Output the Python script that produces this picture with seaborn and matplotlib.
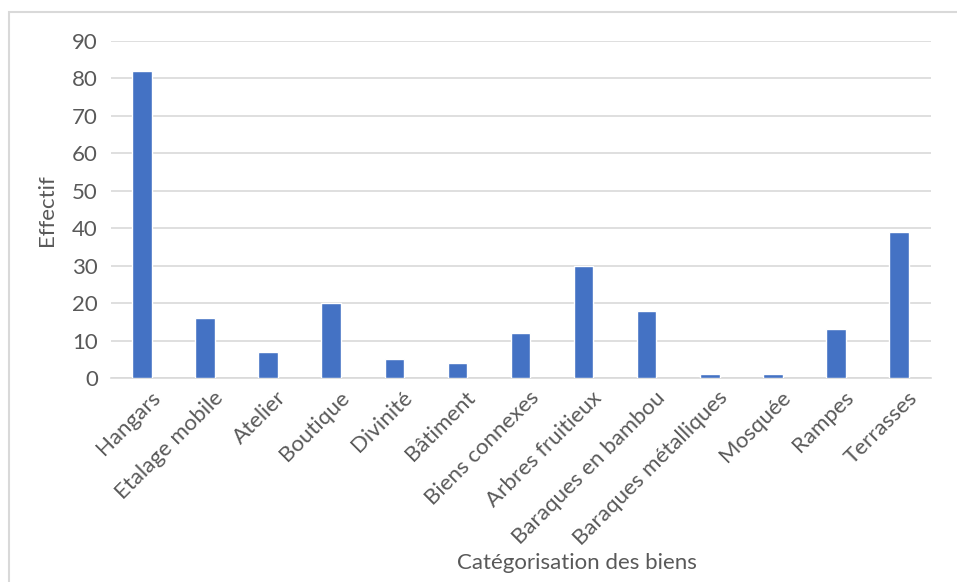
import matplotlib
matplotlib.use("Agg")
import matplotlib.pyplot as plt
import matplotlib.transforms as mtransforms
import seaborn as sns
import pandas as pd
from matplotlib.patches import Rectangle

categories = ["Hangars", "Etalage mobile", "Atelier", "Boutique", "Divinité",
              "Bâtiment", "Biens connexes", "Arbres fruitieux", "Baraques en bambou",
              "Baraques métalliques", "Mosquée", "Rampes", "Terrasses"]
effectif = [82, 16, 7, 20, 5, 4, 12, 30, 18, 1, 1, 13, 39]
y_ticks = [0, 10, 20, 30, 40, 50, 60, 70, 80, 90]

df = pd.DataFrame({"categorie": categories, "effectif": effectif})

sns.set_theme(style="white")
plt.rcParams["font.family"] = ["Lato", "DejaVu Sans"]

W, H = 957, 582
fig = plt.figure(figsize=(W / 100, H / 100), dpi=100)
ax = fig.add_axes([110.5 / W, 1 - 378 / H, 820 / W, 337 / H])

# chart frame
fig.patches.append(Rectangle((9 / W, -0.1), 1.2, 1 + 0.1 - 12 / H, transform=fig.transFigure,
                             fill=False, edgecolor="#d9d9d9", linewidth=1.5, zorder=0))

sns.barplot(data=df, x="categorie", y="effectif", color="#4472c4", width=0.31,
            saturation=1, ax=ax, zorder=3)

ax.set_ylim(0, 90)
ax.set_yticks(y_ticks)
ax.set_xlim(-0.5, len(categories) - 0.5)
ax.yaxis.grid(True, color="#d9d9d9", linewidth=1.2, zorder=0)
ax.xaxis.grid(False)
for side in ["top", "right", "left"]:
    ax.spines[side].set_visible(False)
ax.spines["bottom"].set_color("#d9d9d9")
ax.spines["bottom"].set_linewidth(1.2)
ax.tick_params(axis="both", length=0, labelsize=16, colors="#595959")
ax.tick_params(axis="y", pad=9)
ax.tick_params(axis="x", pad=7)
ax.set_xticks(range(len(categories)))
ax.set_xticklabels(categories, rotation=45, ha="right", va="top", rotation_mode="anchor")
# nudge the rotated labels so their ends sit just right of each bar
shift = mtransforms.ScaledTranslation(8 / 100, 0, fig.dpi_scale_trans)
for lbl in ax.get_xticklabels():
    lbl.set_transform(lbl.get_transform() + shift)

ax.set_xlabel("")
ax.set_ylabel("")
fig.text(47 / W, 1 - 210 / H, "Effectif", rotation=90, ha="center", va="center",
         fontsize=16, color="#595959")
fig.text(577 / W, 1 - 563 / H, "Catégorisation des biens", ha="center", va="center",
         fontsize=16, color="#595959")

fig.savefig("out.png", dpi=100, facecolor="white")
